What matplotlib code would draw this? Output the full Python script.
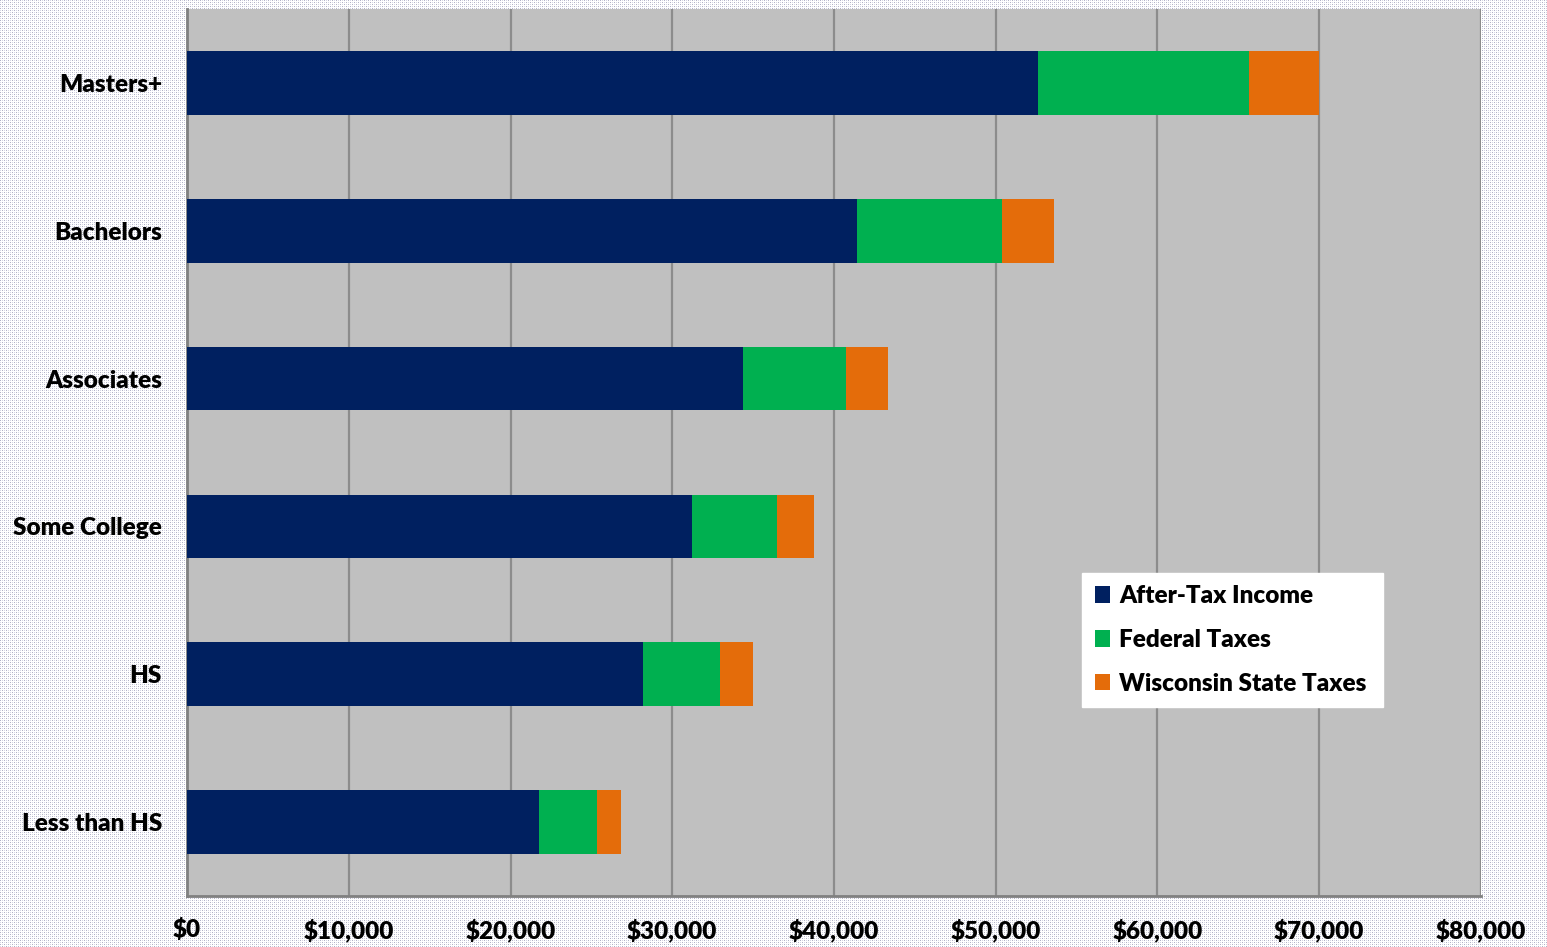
import numpy as np
import matplotlib.pyplot as plt
from matplotlib.ticker import FuncFormatter

plt.rcParams['font.family'] = ['Lato', 'DejaVu Sans']
plt.rcParams['font.weight'] = 'heavy'

categories = ['Less than HS', 'HS', 'Some College', 'Associates', 'Bachelors', 'Masters+']
after_tax = [21760, 28190, 31220, 34370, 41420, 52600]
federal = [3590, 4760, 5260, 6370, 8970, 13060]
state = [1480, 2040, 2280, 2600, 3210, 4320]
series_names = ['After-Tax Income', 'Federal Taxes', 'Wisconsin State Taxes']
colors = ['#002060', '#00B050', '#E46C0A']

fig = plt.figure(figsize=(15.47, 9.47), dpi=100)
fig.patch.set_facecolor('#f4f4f8')

# dotted background texture like the original
tile = np.ones((4, 4, 3))
tile[0, 0] = [0.70, 0.70, 0.78]
tile[2, 2] = [0.70, 0.70, 0.78]
tile[0, 2] = [0.84, 0.84, 0.90]
tile[2, 0] = [0.84, 0.84, 0.90]
bg = np.tile(tile, (947 // 4 + 1, 1547 // 4 + 1, 1))[:947, :1547]
fig.figimage(bg, 0, 0, zorder=-10)

ax = fig.add_axes([0.1209, 0.0539, 0.8364, 0.9366])
ax.set_facecolor('#C0C0C0')

y = np.arange(len(categories))
left = np.zeros(len(categories))
for vals, name, c in zip([after_tax, federal, state], series_names, colors):
    ax.barh(y, vals, left=left, height=0.43, color=c, label=name, zorder=3)
    left = left + np.array(vals)

ax.set_xlim(0, 80000)
ax.set_ylim(-0.5, 5.5)
ax.set_xticks(np.arange(0, 80001, 10000))
ax.xaxis.set_major_formatter(FuncFormatter(lambda v, p: '${:,.0f}'.format(v)))
ax.set_yticks(y)
ax.set_yticklabels(categories)
ax.tick_params(axis='both', length=0, labelsize=17.5)
ax.tick_params(axis='x', pad=16)
ax.tick_params(axis='y', pad=18)
ax.grid(axis='x', color='#8c8c8c', linewidth=1.6, zorder=1)

for s in ['top', 'right']:
    ax.spines[s].set_visible(False)
for s in ['left', 'bottom']:
    ax.spines[s].set_color('#808080')
    ax.spines[s].set_linewidth(2)

leg = ax.legend(loc='lower left', bbox_to_anchor=(0.692, 0.213, 0.232, 0.155), mode='expand',
                frameon=True, fancybox=False, fontsize=17.5, handlelength=0.65, handleheight=0.65,
                handletextpad=0.35, labelspacing=0.9, borderpad=0.5, borderaxespad=0)
leg.get_frame().set_facecolor('white')
leg.get_frame().set_edgecolor('white')
leg.get_frame().set_alpha(1)

fig.savefig('out.png', dpi=100, facecolor=fig.get_facecolor())
